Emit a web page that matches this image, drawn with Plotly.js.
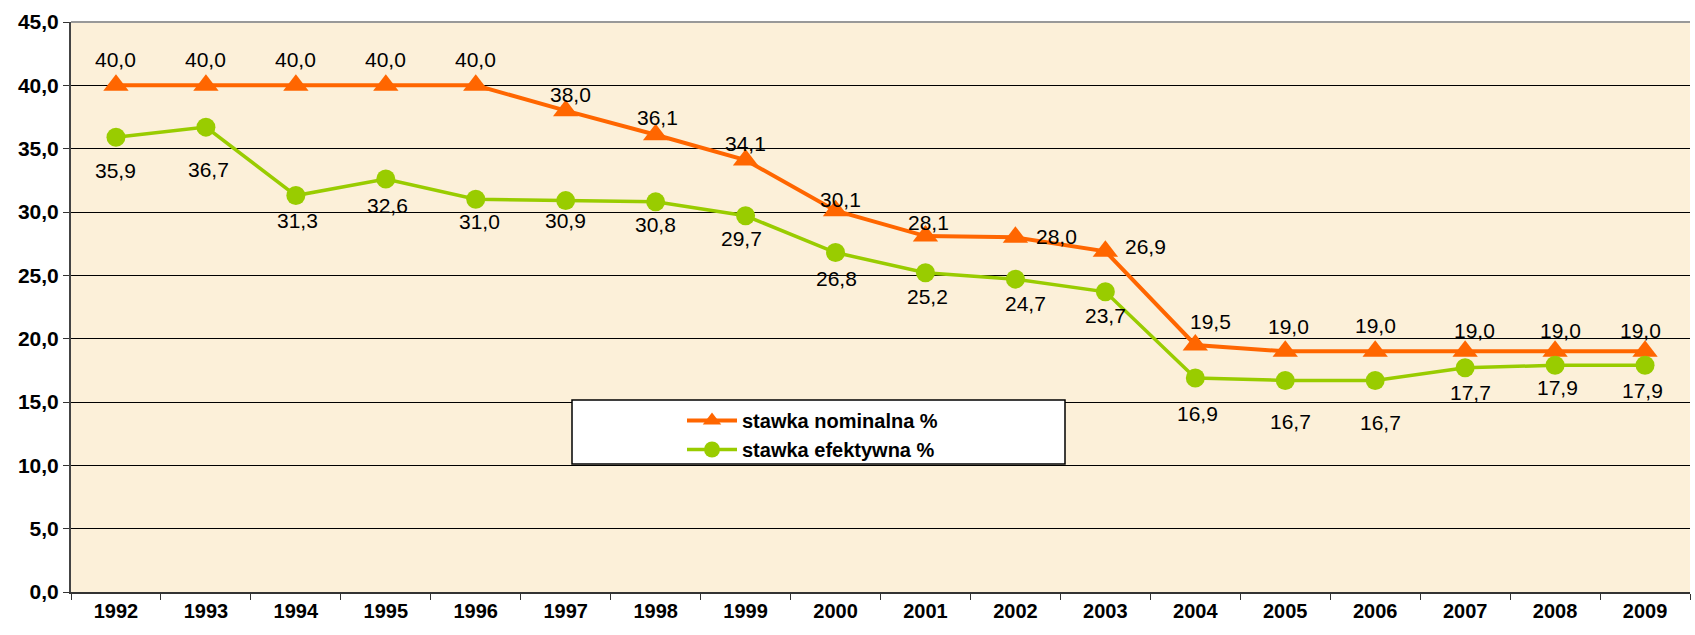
<!DOCTYPE html>
<html>
<head>
<meta charset="utf-8">
<script src="https://cdn.plot.ly/plotly-3.0.1.min.js"></script>
<style>html,body{margin:0;padding:0;background:#fff;}#chart{width:1695px;height:635px;}</style>
</head>
<body>
<div id="chart"></div>
<script>
const years = ['1992','1993','1994','1995','1996','1997','1998','1999','2000','2001','2002','2003','2004','2005','2006','2007','2008','2009'];
const nominal = [40.0,40.0,40.0,40.0,40.0,38.0,36.1,34.1,30.1,28.1,28.0,26.9,19.5,19.0,19.0,19.0,19.0,19.0];
const effective = [35.9,36.7,31.3,32.6,31.0,30.9,30.8,29.7,26.8,25.2,24.7,23.7,16.9,16.7,16.7,17.7,17.9,17.9];
const yTicks = [0,5,10,15,20,25,30,35,40,45];

// label placement offsets (pixels: [dx, dy down]) — styling only
const nomLabelOffset = [[0,-26],[0,-26],[0,-26],[0,-26],[0,-26],[5,-16],[2,-17],[0,-17],[5,-11],[3,-14],[41,-1],[40,-5],[15,-24],[3,-25],[0,-26],[9,-21],[5,-21],[-5,-21]];
const effLabelOffset = [[0,33],[3,42],[2,25],[2,26],[4,22],[0,20],[0,23],[-4,23],[1,26],[2,24],[10,24],[0,24],[2,36],[5,41],[5,42],[5,25],[2,22],[-3,25]];

const fmt = v => v.toFixed(1).replace('.', ',');
const FF = 'Liberation Sans, Arial, sans-serif';
const labelFont = {family: FF, size: 21, color: '#000'};

const traces = [
  {
    x: years, y: nominal, name: 'stawka nominalna %', type: 'scatter', mode: 'lines+markers',
    line: {color: '#FF6600', width: 4},
    marker: {symbol: 'triangle-up', size: 22, color: '#FF6600'},
    cliponaxis: false, hoverinfo: 'x+y'
  },
  {
    x: years, y: effective, name: 'stawka efektywna %', type: 'scatter', mode: 'lines+markers',
    line: {color: '#99CC00', width: 3.5},
    marker: {symbol: 'circle', size: 19, color: '#99CC00'},
    cliponaxis: false, hoverinfo: 'x+y'
  }
];

// category axis: annotation x is the category index
const annotations = [];
years.forEach((yr, i) => {
  annotations.push({x: i, y: nominal[i], xref: 'x', yref: 'y', text: fmt(nominal[i]), showarrow: false,
    xanchor: 'center', yanchor: 'middle', xshift: nomLabelOffset[i][0], yshift: -nomLabelOffset[i][1], font: labelFont});
  annotations.push({x: i, y: effective[i], xref: 'x', yref: 'y', text: fmt(effective[i]), showarrow: false,
    xanchor: 'center', yanchor: 'middle', xshift: effLabelOffset[i][0], yshift: -effLabelOffset[i][1], font: labelFont});
});

const layout = {
  width: 1695, height: 635,
  margin: {l: 71, r: 5, t: 22, b: 43},
  paper_bgcolor: '#ffffff',
  plot_bgcolor: '#FCF0D9',
  separators: ',.',
  showlegend: true,
  font: {family: FF, color: '#000'},
  xaxis: {
    type: 'category', categoryorder: 'array', categoryarray: years,
    range: [-0.5, years.length - 0.5], autorange: false,
    tickson: 'boundaries', ticks: 'outside', ticklen: 6, tickcolor: '#333',
    showgrid: false, showline: true, linecolor: '#333', linewidth: 2,
    tickfont: {family: FF, size: 20, color: '#000', weight: 'bold'},
    zeroline: false
  },
  yaxis: {
    range: [0, 45], autorange: false, tickvals: yTicks, tickformat: '.1f',
    ticks: 'outside', ticklen: 6, tickcolor: '#333',
    showgrid: true, gridcolor: '#000', gridwidth: 1,
    showline: true, linecolor: '#444', linewidth: 2,
    tickfont: {family: FF, size: 21, color: '#000', weight: 'bold'},
    zeroline: false
  },
  annotations: annotations,
  shapes: [
    {type: 'line', xref: 'paper', yref: 'paper', x0: 0, x1: 1, y0: 1, y1: 1, line: {color: '#999', width: 2}},
    {type: 'rect', xref: 'paper', yref: 'paper', x0: (572-71)/1619, x1: (1065-71)/1619, y0: (592-464)/570, y1: (592-400)/570,
     fillcolor: '#ffffff', line: {color: '#000', width: 1.5}, layer: 'above'}
  ],
  legend: {
    x: (682-71)/1619, y: (592-401)/570, xanchor: 'left', yanchor: 'top',
    bgcolor: 'rgba(0,0,0,0)', borderwidth: 0,
    font: {family: FF, size: 20, color: '#000', weight: 'bold'},
    tracegroupgap: 0, itemwidth: 50
  }
};

Plotly.newPlot('chart', traces, layout, {displayModeBar: false, staticPlot: true});
</script>
</body>
</html>
